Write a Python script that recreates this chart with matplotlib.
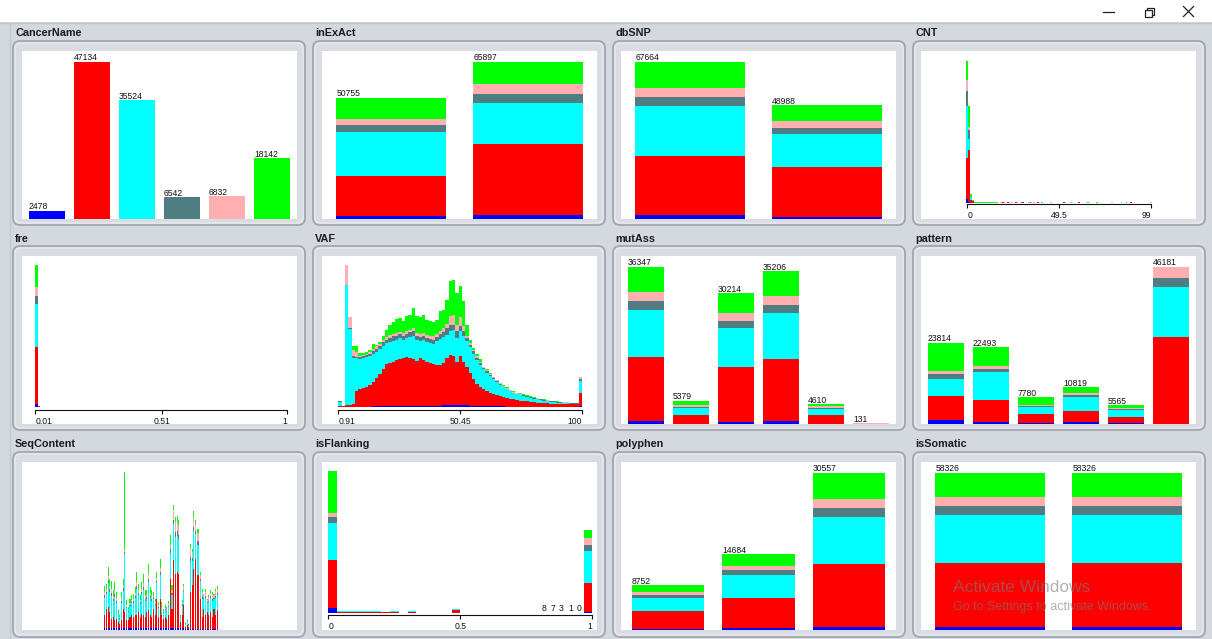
import numpy as np
import matplotlib
matplotlib.use("Agg")
import matplotlib.pyplot as plt
from matplotlib.patches import FancyBboxPatch, Rectangle

plt.rcParams['font.family'] = ['Liberation Sans', 'DejaVu Sans']

# ---------------- data ----------------
SERIES = ['blue', 'red', 'cyan', 'teal', 'pink', 'green']
COLORS = {'blue': '#0000ff', 'red': '#ff0000', 'cyan': '#00ffff',
          'teal': '#4f7d82', 'pink': '#ffafaf', 'green': '#00ff00'}

cancer_counts = [2478, 47134, 35524, 6542, 6832, 18142]

inexact_blue = [1118, 1658]
inexact_red = [17060, 29840]
inexact_cyan = [18040, 17130]
inexact_teal = [2936, 3730]
inexact_pink = [2657, 4282]
inexact_green = [8944, 9257]

dbsnp_blue = [1570, 718]
dbsnp_red = [25700, 21700]
dbsnp_cyan = [21410, 14080]
dbsnp_teal = [3854, 2730]
dbsnp_pink = [3712, 3018]
dbsnp_green = [11418, 6742]

mutass_blue = [768, 60, 540, 765, 70, 0]
mutass_red = [14680, 2080, 12720, 14230, 1900, 60]
mutass_cyan = [10910, 1540, 8864, 10640, 1490, 40]
mutass_teal = [2075, 310, 1696, 1913, 330, 10]
mutass_pink = [2152, 300, 1850, 1990, 250, 10]
mutass_green = [5762, 1089, 4544, 5668, 570, 11]

pattern_blue = [1264, 485, 290, 487, 290, 18]
pattern_red = [7000, 6690, 2560, 3410, 1800, 25588]
pattern_cyan = [4958, 7950, 2070, 3900, 1900, 14640]
pattern_teal = [1458, 970, 394, 682, 390, 2635]
pattern_pink = [875, 970, 295, 682, 390, 3300]
pattern_green = [8259, 5428, 2171, 1658, 795, 0]

polyphen_blue = [193, 325, 650]
polyphen_red = [3475, 5912, 12160]
polyphen_cyan = [2638, 4483, 9100]
polyphen_teal = [515, 845, 1755]
polyphen_pink = [579, 845, 1690]
polyphen_green = [1352, 2274, 5202]

somatic_blue = [1239, 1239]
somatic_red = [23567, 23567]
somatic_cyan = [17762, 17762]
somatic_teal = [3271, 3271]
somatic_pink = [3416, 3416]
somatic_green = [9071, 9071]

# CNT histogram (bins 0..99)
cnt_head_bins = [0, 1, 2, 3]
cnt_head_blue = [1000, 300, 0, 0]
cnt_head_red = [12600, 15700, 800, 400]
cnt_head_cyan = [15400, 3300, 800, 0]
cnt_head_teal = [4600, 2500, 100, 0]
cnt_head_pink = [3400, 1000, 100, 0]
cnt_head_green = [5800, 6200, 800, 400]
cnt_tail_bins = [4, 5, 6, 7, 8, 9, 10, 11, 12, 13, 14, 15, 16,
                 18, 19, 20, 22, 23, 24, 26, 27, 29, 30, 33, 34, 36, 38,
                 40, 45, 52, 56, 60, 65, 70, 78, 83, 86, 88, 90, 99]
cnt_tail_series = ['green', 'green', 'green', 'green', 'green', 'green', 'green',
                   'green', 'green', 'green', 'green', 'green', 'green',
                   'pink', 'red', 'pink', 'red', 'pink', 'pink', 'red', 'pink',
                   'cyan', 'red', 'pink', 'red', 'pink', 'red',
                   'cyan', 'pink', 'red', 'pink', 'red', 'green', 'green', 'pink',
                   'cyan', 'pink', 'red', 'pink', 'pink']
cnt_tail_counts = [300, 300, 300, 300, 300, 300, 300, 300, 300, 300, 300, 300, 300,
                   300, 300, 300, 300, 300, 300, 300, 300, 300, 300, 300, 300, 300, 300,
                   300, 300, 300, 300, 300, 300, 300, 300, 300, 300, 300, 300, 300]

# fre histogram
fre_bin_start = [0.01, 0.0199]
fre_blue = [2400, 80]
fre_red = [47000, 130]
fre_cyan = [35300, 230]
fre_teal = [6500, 40]
fre_pink = [6800, 30]
fre_green = [18100, 40]

# VAF histogram (73 bins from 0.91 to 100)
vaf_blue = [0, 0, 0, 0, 0, 0, 0, 0, 0, 0,
            2, 2, 2, 2, 2, 2, 2, 2, 2, 2,
            2, 2, 2, 2, 2, 2, 2, 2, 2, 2,
            2, 5, 5, 5, 5, 5, 5, 5, 5, 2,
            2, 2, 1, 1, 1, 1, 1, 1, 1, 1,
            0, 0, 0, 0, 0, 0, 0, 0, 0, 0,
            0, 0, 0, 0, 0, 0, 0, 0, 0, 0,
            0, 0, 1]
vaf_red = [2, 1, 4, 6, 8, 48, 52, 56, 60, 64,
           73, 83, 96, 110, 126, 130, 133, 138, 142, 143,
           146, 143, 140, 136, 143, 138, 133, 130, 126, 123,
           122, 125, 140, 149, 147, 130, 145, 130, 115, 98,
           80, 66, 57, 51, 45, 41, 37, 33, 31, 27,
           25, 24, 22, 20, 18, 17, 16, 15, 13, 12,
           11, 10, 10, 9, 9, 8, 8, 8, 7, 7,
           7, 7, 39]
vaf_cyan = [13, 2, 361, 226, 139, 97, 92, 90, 88, 88,
            83, 79, 74, 70, 62, 62, 62, 60, 60, 55,
            57, 63, 70, 60, 50, 58, 57, 58, 60, 70,
            78, 78, 70, 71, 78, 70, 75, 77, 75, 78,
            76, 72, 67, 60, 56, 50, 45, 40, 33, 30,
            27, 22, 18, 17, 16, 15, 14, 12, 11, 10,
            9, 8, 6, 6, 5, 4, 3, 2, 3, 2,
            2, 2, 38]
vaf_teal = [3, 0, 0, 2, 3, 3, 4, 4, 5, 5,
            7, 8, 8, 10, 10, 11, 13, 12, 12, 12,
            13, 14, 13, 14, 13, 14, 13, 12, 12, 13,
            14, 16, 19, 18, 15, 20, 17, 15, 10, 7,
            7, 6, 5, 4, 4, 4, 3, 3, 3, 2,
            2, 2, 2, 2, 2, 2, 2, 2, 2, 2,
            2, 2, 2, 2, 2, 2, 2, 2, 2, 2,
            2, 2, 4]
vaf_pink = [0, 0, 57, 33, 20, 14, 4, 4, 5, 5,
            7, 8, 8, 8, 8, 9, 8, 8, 8, 8,
            7, 8, 9, 8, 8, 8, 9, 8, 10, 10,
            10, 11, 14, 29, 29, 20, 26, 15, 7, 5,
            4, 4, 4, 4, 3, 3, 3, 3, 3, 3,
            2, 2, 2, 1, 1, 1, 1, 1, 1, 1,
            1, 1, 1, 1, 1, 1, 1, 1, 1, 1,
            1, 1, 8]
vaf_green = [0, 0, 0, 0, 12, 20, 8, 6, 4, 6,
             16, 5, 4, 12, 22, 31, 34, 42, 41, 35,
             47, 45, 61, 52, 52, 55, 44, 45, 42, 42,
             59, 55, 70, 103, 104, 95, 92, 73, 33, 10,
             6, 8, 8, 0, 3, 3, 1, 0, 0, 1,
             2, 0, 2, 2, 3, 2, 2, 2, 3, 2,
             1, 1, 1, 0, 0, 1, 1, 1, 0, 0,
             0, 0, 0]

# SeqContent (68 categories)
seq_blue = [4, 4, 4, 4, 4, 4, 4, 4, 4, 4, 4, 4, 4, 4, 4, 4, 4, 4, 4, 4,
            4, 4, 4, 4, 4, 4, 4, 4, 4, 4, 4, 4, 4, 4, 4, 4, 4, 4, 4, 4,
            4, 4, 4, 4, 4, 4, 4, 4, 2, 2, 2, 2, 2, 2, 2, 2, 2, 2, 2, 2,
            2, 2, 2, 2, 2, 2, 2, 2]
seq_red = [39, 59, 64, 49, 29, 34, 26, 29, 19, 14, 26, 59, 49, 24, 24, 34, 39, 34, 39, 39,
           49, 34, 44, 39, 34, 49, 54, 39, 34, 59, 39, 89, 34, 89, 39, 29, 34, 29, 39, 149,
           59, 204, 164, 169, 164, 19, 39, 69, 6, 11, 6, 111, 131, 181, 211, 161, 161, 91, 36, 61,
           41, 51, 41, 51, 36, 61, 41, 56]
seq_cyan = [53, 45, 72, 60, 68, 48, 68, 48, 21, 15, 50, 54, 175, 36, 24, 33, 36, 42, 51, 78,
            51, 39, 57, 75, 48, 39, 84, 51, 48, 30, 30, 48, 27, 71, 24, 18, 21, 21, 26, 78,
            42, 109, 111, 109, 104, 13, 29, 42, 10, 13, 7, 94, 72, 112, 75, 91, 91, 52, 55, 29,
            51, 26, 39, 42, 49, 29, 52, 47]
seq_teal = [7, 6, 10, 8, 9, 6, 9, 6, 3, 2, 7, 7, 6, 5, 3, 4, 5, 6, 7, 10,
            7, 5, 8, 10, 6, 5, 11, 7, 6, 4, 4, 6, 4, 9, 3, 2, 3, 3, 3, 10,
            6, 13, 14, 13, 13, 2, 4, 5, 1, 2, 1, 12, 9, 14, 9, 11, 11, 6, 7, 4,
            6, 3, 5, 5, 6, 4, 6, 6]
seq_pink = [9, 8, 12, 10, 11, 8, 11, 8, 4, 3, 8, 9, 5, 6, 4, 6, 6, 7, 9, 13,
            9, 7, 10, 13, 8, 7, 14, 9, 8, 5, 5, 8, 5, 12, 4, 3, 4, 4, 4, 13,
            7, 28, 29, 28, 27, 3, 8, 11, 3, 3, 1, 25, 19, 29, 20, 24, 24, 14, 14, 8,
            13, 7, 10, 11, 13, 8, 14, 12]
seq_green = [19, 16, 26, 22, 25, 18, 25, 18, 7, 5, 18, 20, 235, 13, 9, 12, 13, 15, 18, 29,
             18, 14, 20, 27, 18, 14, 31, 18, 18, 11, 11, 18, 9, 26, 9, 7, 7, 7, 10, 29,
             15, 17, 16, 17, 16, 2, 4, 7, 1, 2, 1, 14, 10, 17, 11, 14, 14, 8, 9, 4,
             8, 4, 6, 7, 7, 4, 8, 8]

# isFlanking histogram (30 bins over 0..1)
flank_blue = [2380, 0, 0, 0, 0, 0, 0, 0, 0, 0, 0, 0, 0, 0, 0,
              0, 0, 0, 0, 0, 0, 0, 0, 0, 0, 0, 0, 0, 0, 340]
flank_red = [24480, 340, 340, 340, 340, 340, 510, 340, 0, 340, 0, 0, 0, 0, 1190,
             0, 0, 0, 0, 0, 0, 0, 0, 0, 8, 7, 3, 1, 0, 14960]
flank_cyan = [19210, 510, 510, 510, 510, 340, 0, 340, 0, 340, 0, 0, 0, 0, 510,
              0, 0, 0, 0, 0, 0, 0, 0, 0, 0, 0, 0, 0, 0, 16320]
flank_teal = [2890, 0, 0, 0, 0, 0, 0, 0, 0, 0, 0, 0, 0, 0, 0,
              0, 0, 0, 0, 0, 0, 0, 0, 0, 0, 0, 0, 0, 0, 3230]
flank_pink = [2040, 0, 0, 0, 0, 0, 0, 0, 0, 0, 0, 0, 0, 0, 170,
              0, 0, 0, 0, 0, 0, 0, 0, 0, 0, 0, 0, 0, 0, 3570]
flank_green = [21250, 0, 0, 0, 0, 0, 0, 0, 0, 0, 0, 0, 0, 0, 0,
               0, 0, 0, 0, 0, 0, 0, 0, 0, 0, 0, 0, 0, 0, 3740]
flank_label_bins = [24, 25, 26, 27, 28]

titles = ['CancerName', 'inExAct', 'dbSNP', 'CNT',
          'fre', 'VAF', 'mutAss', 'pattern',
          'SeqContent', 'isFlanking', 'polyphen', 'isSomatic']

# ---------------- layout ----------------
W, H = 1212, 639
fig = plt.figure(figsize=(W / 100, H / 100), dpi=100)
BG = '#d4d8df'
fig.patch.set_facecolor(BG)

def ax_px(x0, y0, x1, y1):
    return fig.add_axes([x0 / W, 1 - y1 / H, (x1 - x0) / W, (y1 - y0) / H])

bg = fig.add_axes([0, 0, 1, 1])
bg.set_xlim(0, W)
bg.set_ylim(H, 0)
bg.axis('off')
bg.add_patch(Rectangle((0, 0), W, 22, color='white', lw=0))
bg.plot([0, W], [22.5, 22.5], color='#bfc3ca', lw=1)
bg.plot([9.5, 9.5], [23, H], color='#c4c8cf', lw=1)
# window controls
bg.plot([1103, 1114], [11.5, 11.5], color='#222222', lw=0.9)
bg.add_patch(Rectangle((1144.5, 9.5), 7, 7, fill=False, ec='#222222', lw=0.9))
bg.plot([1146.5, 1146.5, 1153.5, 1153.5, 1151.5], [9.5, 7.5, 7.5, 14.5, 14.5], color='#222222', lw=0.9)
bg.plot([1183.5, 1193.5], [6.5, 16.5], color='#222222', lw=0.9)
bg.plot([1183.5, 1193.5], [16.5, 6.5], color='#222222', lw=0.9)

col_x = [0, 300, 600, 900]
white_x = [22, 322, 621, 921]
row_frame = [(41, 225), (246, 430), (452, 637)]
row_title = [33, 239, 444]
row_white = [(51, 219), (256, 424), (462, 630)]

for r in range(3):
    for c in range(4):
        ft, fb = row_frame[r]
        bg.add_patch(FancyBboxPatch((13 + col_x[c], ft), 292, fb - ft,
                                    boxstyle='round,pad=0,rounding_size=7',
                                    fc='#d9dce2', ec='#a2a6ad', lw=1.3))
        bg.add_patch(FancyBboxPatch((15 + col_x[c], ft + 2), 288, fb - ft - 4,
                                    boxstyle='round,pad=0,rounding_size=6',
                                    fc='none', ec='#eceef2', lw=0.7))
        wt, wb = row_white[r]
        bg.add_patch(Rectangle((white_x[c], wt), 275, wb - wt, color='white', lw=0))
        bg.text(15 + col_x[c], row_title[r], titles[r * 4 + c], fontsize=7.8,
                fontweight='bold', color='#1c1c1c', ha='left', va='center')

LABEL_FS = 6.2

def stacked(ax, x, series_vals, width, align='center'):
    bottom = np.zeros(len(x))
    for name, vals in zip(SERIES, series_vals):
        v = np.asarray(vals, float)
        ax.bar(x, v, width, bottom=bottom, color=COLORS[name], linewidth=0, align=align)
        bottom = bottom + v
    return bottom

def bar_panel(col, row, series_vals, margin):
    wt, wb = row_white[row]
    ax = ax_px(white_x[col], wt, white_x[col] + 275, wb)
    n = len(series_vals[0])
    x = np.arange(n)
    tot = stacked(ax, x, series_vals, 0.8)
    ax.set_xlim(-0.5 - margin, n - 0.5 + margin)
    ax.set_ylim(0, tot.max() * 1.067)
    ax.axis('off')
    for xi, t in zip(x, tot):
        ax.annotate(f'{int(round(t))}', (xi - 0.4, t), xytext=(0, 1), textcoords='offset points',
                    ha='left', va='baseline', fontsize=LABEL_FS, color='#111111')
    return ax

def hist_panel(col, row, base_px, axis_px, tick_vals, tick_labels, tick_px):
    wt, wb = row_white[row]
    x0 = white_x[col]
    x1 = x0 + 275
    ax = ax_px(x0, wt, x1, base_px)
    s = (tick_px[-1] - tick_px[0]) / (tick_vals[-1] - tick_vals[0])
    ax.set_xlim(tick_vals[0] - (tick_px[0] - x0) / s, tick_vals[-1] + (x1 - tick_px[-1]) / s)
    ax.patch.set_visible(False)
    for sp in ('top', 'left', 'right'):
        ax.spines[sp].set_visible(False)
    sp = ax.spines['bottom']
    sp.set_position(('outward', (axis_px - base_px) * 0.72))
    sp.set_bounds(tick_vals[0], tick_vals[-1])
    sp.set_linewidth(0.8)
    sp.set_color('#111111')
    ax.set_xticks(tick_vals, tick_labels)
    ax.set_yticks([])
    ax.tick_params(axis='x', length=3, width=0.8, pad=2, labelsize=LABEL_FS,
                   colors='#111111')
    labs = ax.get_xticklabels()
    labs[0].set_ha('left')
    labs[-1].set_ha('right')
    return ax

# Row 1
wt, wb = row_white[0]
ax = ax_px(white_x[0], wt, white_x[0] + 275, wb)
xc = np.arange(len(cancer_counts))
ax.bar(xc, cancer_counts, 0.8, color=[COLORS[s] for s in SERIES], linewidth=0)
ax.set_xlim(-0.556, len(cancer_counts) - 0.445)
ax.set_ylim(0, max(cancer_counts) * 1.067)
ax.axis('off')
for xi, t in zip(xc, cancer_counts):
    ax.annotate(f'{t}', (xi - 0.4, t), xytext=(0, 1), textcoords='offset points',
                ha='left', va='baseline', fontsize=LABEL_FS, color='#111111')

bar_panel(1, 0, [inexact_blue, inexact_red, inexact_cyan, inexact_teal, inexact_pink, inexact_green], 0.006)
bar_panel(2, 0, [dbsnp_blue, dbsnp_red, dbsnp_cyan, dbsnp_teal, dbsnp_pink, dbsnp_green], 0.006)

# CNT
ax = hist_panel(3, 0, 202.7, 203.7, [0, 49.5, 99], ['0', '49.5', '99'], [967.3, 1059.3, 1151.3])
cnt = {s: np.zeros(100) for s in SERIES}
for s, vals in zip(SERIES, [cnt_head_blue, cnt_head_red, cnt_head_cyan, cnt_head_teal,
                            cnt_head_pink, cnt_head_green]):
    cnt[s][cnt_head_bins] = vals
for b, s, v in zip(cnt_tail_bins, cnt_tail_series, cnt_tail_counts):
    cnt[s][b] += v
tot = stacked(ax, np.arange(100), [cnt[s] for s in SERIES], 0.99)
ax.set_ylim(0, tot.max() * 1.067)

# Row 2
ax = hist_panel(0, 1, 406.7, 410, [0.01, 0.51, 1], ['0.01', '0.51', '1'], [35.3, 160.3, 286.7])
tot = stacked(ax, fre_bin_start, [fre_blue, fre_red, fre_cyan, fre_teal, fre_pink, fre_green],
              0.0099, align='edge')
ax.set_ylim(0, tot.max() * 1.067)

ax = hist_panel(1, 1, 406.7, 410, [0.91, 50.45, 100], ['0.91', '50.45', '100'], [338.3, 460.3, 582.3])
vaf_edges = np.linspace(0.91, 100, len(vaf_red) + 1)
tot = stacked(ax, vaf_edges[:-1], [vaf_blue, vaf_red, vaf_cyan, vaf_teal, vaf_pink, vaf_green],
              vaf_edges[1] - vaf_edges[0], align='edge')
ax.set_ylim(0, tot.max() * 1.067)

bar_panel(2, 1, [mutass_blue, mutass_red, mutass_cyan, mutass_teal, mutass_pink, mutass_green], 0.056)
bar_panel(3, 1, [pattern_blue, pattern_red, pattern_cyan, pattern_teal, pattern_pink, pattern_green], 0.056)

# Row 3
wt, wb = row_white[2]
ax = ax_px(22, wt, 297, 629.5)
xs = np.arange(len(seq_red))
tot = stacked(ax, xs, [seq_blue, seq_red, seq_cyan, seq_teal, seq_pink, seq_green], 0.6)
pitch = 1.68
ax.set_xlim(-(104.8 - 22) / pitch, -(104.8 - 22) / pitch + 275 / pitch)
ax.set_ylim(0, tot.max() * 1.063)
ax.axis('off')

ax = hist_panel(1, 2, 612.7, 615, [0, 0.5, 1], ['0', '0.5', '1'], [328.3, 460.3, 592.3])
nb = len(flank_red)
fstart = np.arange(nb) / nb
tot = stacked(ax, fstart, [flank_blue, flank_red, flank_cyan, flank_teal, flank_pink, flank_green],
              1 / nb, align='edge')
ax.set_ylim(0, tot.max() * 1.067)
for b in flank_label_bins:
    ax.annotate(f'{int(tot[b])}', (fstart[b] + 0.5 / nb, tot[b]), xytext=(0, 1),
                textcoords='offset points', ha='center', va='baseline',
                fontsize=LABEL_FS, color='#111111')

bar_panel(2, 2, [polyphen_blue, polyphen_red, polyphen_cyan, polyphen_teal, polyphen_pink, polyphen_green], 0.016)
bar_panel(3, 2, [somatic_blue, somatic_red, somatic_cyan, somatic_teal, somatic_pink, somatic_green], 0.006)

# watermark
fig.text(953 / W, 1 - 587 / H, 'Activate Windows', fontsize=12.5, color='#7a7a7a',
         alpha=0.6, ha='left', va='center', zorder=5)
fig.text(953 / W, 1 - 607 / H, 'Go to Settings to activate Windows.', fontsize=9,
         color='#7a7a7a', alpha=0.6, ha='left', va='center', zorder=5)

fig.savefig('out.png', dpi=100, facecolor=fig.get_facecolor())
